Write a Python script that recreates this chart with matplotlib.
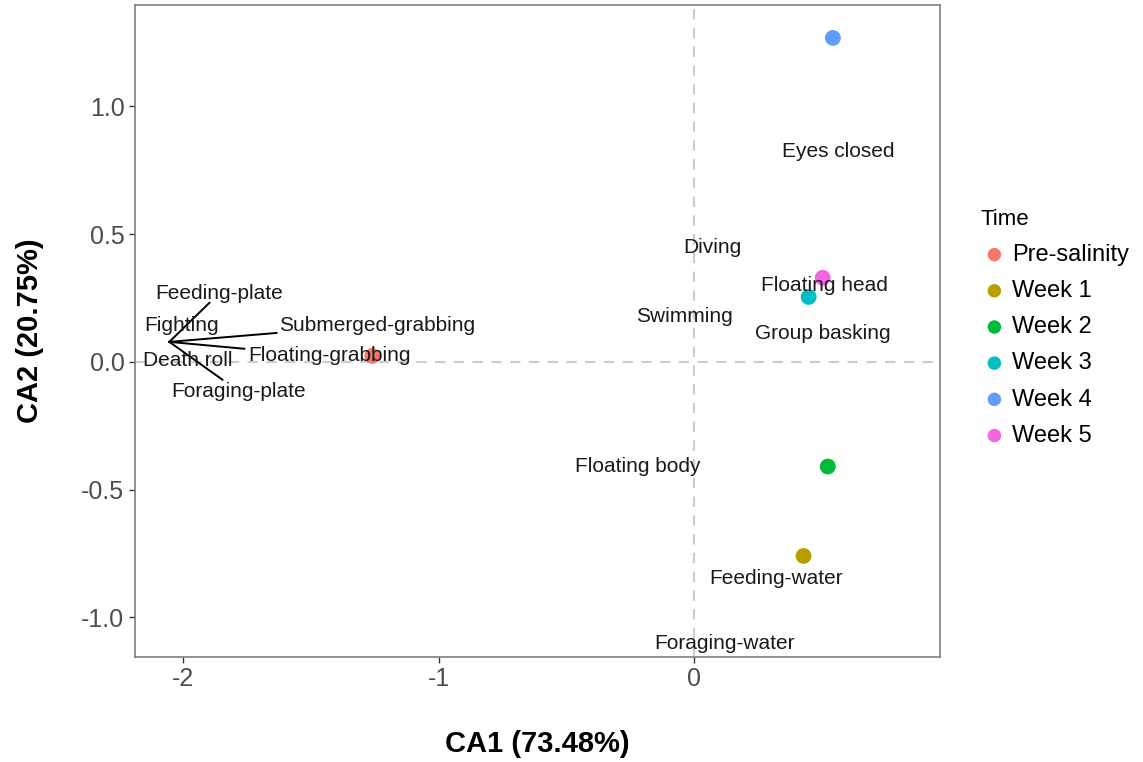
import numpy as np
import matplotlib.pyplot as plt

plt.rcParams['font.family'] = ['Liberation Sans', 'DejaVu Sans']

# sample (time) scores
times = ['Pre-salinity', 'Week 1', 'Week 2', 'Week 3', 'Week 4', 'Week 5']
time_x = [-1.26, 0.43, 0.525, 0.45, 0.545, 0.505]
time_y = [0.023, -0.76, -0.41, 0.254, 1.268, 0.329]
colors = ['#F8766D', '#B79F00', '#00BA38', '#00BFC4', '#619CFF', '#F564E3']

# behaviour labels
behaviours = ['Eyes closed', 'Diving', 'Floating head', 'Swimming', 'Group basking',
              'Floating body', 'Feeding-water', 'Foraging-water', 'Feeding-plate',
              'Fighting', 'Submerged-grabbing', 'Floating-grabbing', 'Death roll',
              'Foraging-plate']
beh_x = [0.565, 0.071, 0.51, -0.035, 0.506, -0.22, 0.322, 0.122, -1.859,
         -2.008, -1.239, -1.427, -1.984, -1.784]
beh_y = [0.822, 0.446, 0.297, 0.176, 0.110, -0.411, -0.849, -1.104, 0.266,
         0.141, 0.141, 0.023, 0.004, -0.117]

# segments drawn for the clustered behaviours
seg_x0, seg_y0 = -2.055, 0.078
seg_x1 = [-1.898, -1.635, -1.761, -1.847]
seg_y1 = [0.231, 0.113, 0.051, -0.070]

fig = plt.figure(figsize=(11.43, 7.62), dpi=100)
ax = fig.add_axes([0.118, 0.138, 0.7045, 0.8555])

ax.axhline(0, color='#cccccc', lw=1.5, ls=(0, (5, 4)), zorder=0)
ax.axvline(0, color='#cccccc', lw=1.5, ls=(0, (5, 4)), zorder=0)

for i in range(len(seg_x1)):
    ax.plot([seg_x0, seg_x1[i]], [seg_y0, seg_y1[i]], color='black', lw=1.4, zorder=2)

for i in range(len(times)):
    ax.scatter(time_x[i], time_y[i], s=130, color=colors[i], label=times[i],
               edgecolors='none', zorder=3)

for i in range(len(behaviours)):
    ax.text(beh_x[i], beh_y[i], behaviours[i], ha='center', va='center',
            fontsize=15, color='#1a1a1a', zorder=4)

ax.set_xlim(-2.19, 0.965)
ax.set_ylim(-1.155, 1.397)
ax.set_xticks([-2, -1, 0])
ax.set_xticklabels(['-2', '-1', '0'])
ax.set_yticks([-1.0, -0.5, 0.0, 0.5, 1.0])
ax.set_yticklabels(['-1.0', '-0.5', '0.0', '0.5', '1.0'])
ax.tick_params(labelsize=18, labelcolor='#4d4d4d', color='#333333', length=4, width=1)
for s in ax.spines.values():
    s.set_color('#7f7f7f')
    s.set_linewidth(1.2)

ax.set_xlabel('CA1 (73.48%)', fontsize=21, fontweight='bold', labelpad=28)
ax.set_ylabel('CA2 (20.75%)', fontsize=21, fontweight='bold', labelpad=27)

leg = fig.legend(loc='upper left', bbox_to_anchor=(0.839, 0.754), frameon=False,
                 title='Time', fontsize=17, title_fontsize=16, markerscale=0.85,
                 handletextpad=0.15, labelspacing=0.6, alignment='left',
                 handlelength=1.2)

plt.savefig('out.png', dpi=100)
plt.close()
